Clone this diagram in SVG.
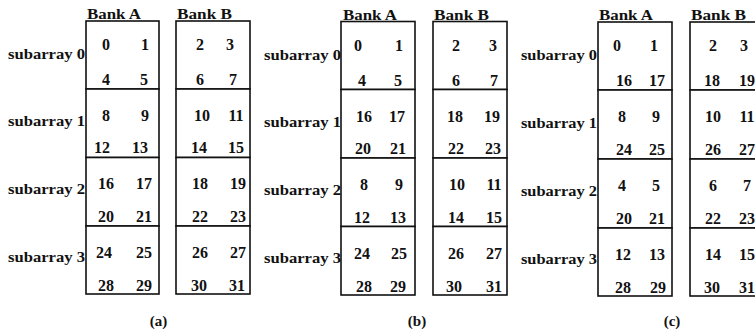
<svg xmlns="http://www.w3.org/2000/svg" width="755" height="329" viewBox="0 0 755 329">
<style>
text{font-family:"Liberation Serif","Times New Roman",serif;font-weight:bold;fill:#111}
.n{font-size:16px;text-anchor:middle}
.lbl{font-size:15px;font-weight:600}
.bank{font-size:15px}
.cap{font-size:15px;text-anchor:middle}
rect{fill:#fff;stroke:#111;stroke-width:1.6}
</style>
<rect x="0" y="0" width="755" height="329" style="stroke:none"/>
<!-- panel a -->
<g id="panel-a">
<text class="bank" x="87" y="19" textLength="54" lengthAdjust="spacingAndGlyphs">Bank A</text>
<text class="bank" x="177" y="19" textLength="55" lengthAdjust="spacingAndGlyphs">Bank B</text>
<text class="lbl" x="8" y="59" textLength="77" lengthAdjust="spacingAndGlyphs">subarray 0</text>
<text class="lbl" x="8" y="126" textLength="77" lengthAdjust="spacingAndGlyphs">subarray 1</text>
<text class="lbl" x="8" y="194" textLength="77" lengthAdjust="spacingAndGlyphs">subarray 2</text>
<text class="lbl" x="8" y="262" textLength="77" lengthAdjust="spacingAndGlyphs">subarray 3</text>
<g id="a-A-0"><rect x="86" y="21" width="73" height="68"/><text class="n" x="106" y="50">0</text><text class="n" x="145" y="50">1</text><text class="n" x="106" y="85">4</text><text class="n" x="144" y="85">5</text></g>
<g id="a-A-1"><rect x="86" y="89" width="73" height="68.5"/><text class="n" x="106" y="121">8</text><text class="n" x="145" y="121">9</text><text class="n" x="102" y="153">12</text><text class="n" x="140" y="153">13</text></g>
<g id="a-A-2"><rect x="86" y="157.5" width="73" height="68.5"/><text class="n" x="106" y="189">16</text><text class="n" x="144" y="189">17</text><text class="n" x="106" y="222">20</text><text class="n" x="144" y="222">21</text></g>
<g id="a-A-3"><rect x="86" y="226" width="73" height="68"/><text class="n" x="104" y="258">24</text><text class="n" x="144" y="258">25</text><text class="n" x="106" y="291">28</text><text class="n" x="144" y="291">29</text></g>
<g id="a-B-0"><rect x="176" y="21" width="74" height="68"/><text class="n" x="200" y="50">2</text><text class="n" x="230" y="50">3</text><text class="n" x="200" y="85">6</text><text class="n" x="233" y="85">7</text></g>
<g id="a-B-1"><rect x="176" y="89" width="74" height="68.5"/><text class="n" x="202" y="121">10</text><text class="n" x="236" y="121">11</text><text class="n" x="199" y="153">14</text><text class="n" x="236" y="153">15</text></g>
<g id="a-B-2"><rect x="176" y="157.5" width="74" height="68.5"/><text class="n" x="200" y="189">18</text><text class="n" x="238" y="189">19</text><text class="n" x="200" y="222">22</text><text class="n" x="238" y="222">23</text></g>
<g id="a-B-3"><rect x="176" y="226" width="74" height="68"/><text class="n" x="200" y="258">26</text><text class="n" x="238" y="258">27</text><text class="n" x="199" y="291">30</text><text class="n" x="237" y="291">31</text></g>
<text class="cap" x="158.5" y="326">(a)</text>
</g>
<!-- panel b -->
<g id="panel-b">
<text class="bank" x="343" y="19.5" textLength="54" lengthAdjust="spacingAndGlyphs">Bank A</text>
<text class="bank" x="434" y="19.5" textLength="55" lengthAdjust="spacingAndGlyphs">Bank B</text>
<text class="lbl" x="264" y="59.5" textLength="77" lengthAdjust="spacingAndGlyphs">subarray 0</text>
<text class="lbl" x="264" y="127" textLength="77" lengthAdjust="spacingAndGlyphs">subarray 1</text>
<text class="lbl" x="264" y="195" textLength="77" lengthAdjust="spacingAndGlyphs">subarray 2</text>
<text class="lbl" x="264" y="263" textLength="77" lengthAdjust="spacingAndGlyphs">subarray 3</text>
<g id="b-A-0"><rect x="341" y="21.5" width="74" height="68"/><text class="n" x="358" y="50.5">0</text><text class="n" x="399" y="50.5">1</text><text class="n" x="362" y="85.5">4</text><text class="n" x="398" y="85.5">5</text></g>
<g id="b-A-1"><rect x="341" y="89.5" width="74" height="68.5"/><text class="n" x="364" y="122">16</text><text class="n" x="397" y="122">17</text><text class="n" x="363" y="154">20</text><text class="n" x="398" y="154">21</text></g>
<g id="b-A-2"><rect x="341" y="158" width="74" height="68.5"/><text class="n" x="364" y="190">8</text><text class="n" x="399" y="190">9</text><text class="n" x="362" y="222.5">12</text><text class="n" x="398" y="222.5">13</text></g>
<g id="b-A-3"><rect x="341" y="226.5" width="74" height="68.5"/><text class="n" x="362" y="258.5">24</text><text class="n" x="399" y="258.5">25</text><text class="n" x="364" y="292">28</text><text class="n" x="398" y="292">29</text></g>
<g id="b-B-0"><rect x="433" y="21.5" width="74" height="68"/><text class="n" x="456" y="50.5">2</text><text class="n" x="493" y="50.5">3</text><text class="n" x="456" y="85.5">6</text><text class="n" x="494" y="85.5">7</text></g>
<g id="b-B-1"><rect x="433" y="89.5" width="74" height="68.5"/><text class="n" x="455" y="122">18</text><text class="n" x="492" y="122">19</text><text class="n" x="456" y="154">22</text><text class="n" x="493" y="154">23</text></g>
<g id="b-B-2"><rect x="433" y="158" width="74" height="68.5"/><text class="n" x="457" y="190">10</text><text class="n" x="494" y="190">11</text><text class="n" x="456" y="222.5">14</text><text class="n" x="494" y="222.5">15</text></g>
<g id="b-B-3"><rect x="433" y="226.5" width="74" height="68.5"/><text class="n" x="456" y="258.5">26</text><text class="n" x="494" y="258.5">27</text><text class="n" x="454" y="292">30</text><text class="n" x="494" y="292">31</text></g>
<text class="cap" x="417" y="326">(b)</text>
</g>
<!-- panel c -->
<g id="panel-c">
<text class="bank" x="599" y="20" textLength="54" lengthAdjust="spacingAndGlyphs">Bank A</text>
<text class="bank" x="691" y="20" textLength="55" lengthAdjust="spacingAndGlyphs">Bank B</text>
<text class="lbl" x="521" y="60" textLength="76" lengthAdjust="spacingAndGlyphs">subarray 0</text>
<text class="lbl" x="521" y="128" textLength="76" lengthAdjust="spacingAndGlyphs">subarray 1</text>
<text class="lbl" x="521" y="196" textLength="76" lengthAdjust="spacingAndGlyphs">subarray 2</text>
<text class="lbl" x="521" y="264" textLength="76" lengthAdjust="spacingAndGlyphs">subarray 3</text>
<g id="c-A-0"><rect x="598" y="22" width="74" height="68"/><text class="n" x="617" y="51">0</text><text class="n" x="654" y="51">1</text><text class="n" x="624" y="86">16</text><text class="n" x="657" y="86">17</text></g>
<g id="c-A-1"><rect x="598" y="90" width="74" height="69"/><text class="n" x="622" y="122">8</text><text class="n" x="656" y="122">9</text><text class="n" x="624" y="155">24</text><text class="n" x="657" y="155">25</text></g>
<g id="c-A-2"><rect x="598" y="159" width="74" height="69"/><text class="n" x="622" y="191">4</text><text class="n" x="656" y="191">5</text><text class="n" x="624" y="224">20</text><text class="n" x="657" y="224">21</text></g>
<g id="c-A-3"><rect x="598" y="228" width="74" height="68"/><text class="n" x="623" y="260">12</text><text class="n" x="657" y="260">13</text><text class="n" x="623" y="293">28</text><text class="n" x="658" y="293">29</text></g>
<g id="c-B-0"><rect x="690" y="22" width="74" height="68"/><text class="n" x="713" y="51">2</text><text class="n" x="744" y="51">3</text><text class="n" x="712" y="86">18</text><text class="n" x="747" y="86">19</text></g>
<g id="c-B-1"><rect x="690" y="90" width="74" height="69"/><text class="n" x="713" y="122">10</text><text class="n" x="747" y="122">11</text><text class="n" x="713" y="155">26</text><text class="n" x="747" y="155">27</text></g>
<g id="c-B-2"><rect x="690" y="159" width="74" height="69"/><text class="n" x="713" y="191">6</text><text class="n" x="747" y="191">7</text><text class="n" x="713" y="224">22</text><text class="n" x="747" y="224">23</text></g>
<g id="c-B-3"><rect x="690" y="228" width="74" height="68"/><text class="n" x="713" y="260">14</text><text class="n" x="747" y="260">15</text><text class="n" x="712" y="293">30</text><text class="n" x="747" y="293">31</text></g>
<text class="cap" x="672" y="326">(c)</text>
</g>
<g id="connectors"/>
</svg>
